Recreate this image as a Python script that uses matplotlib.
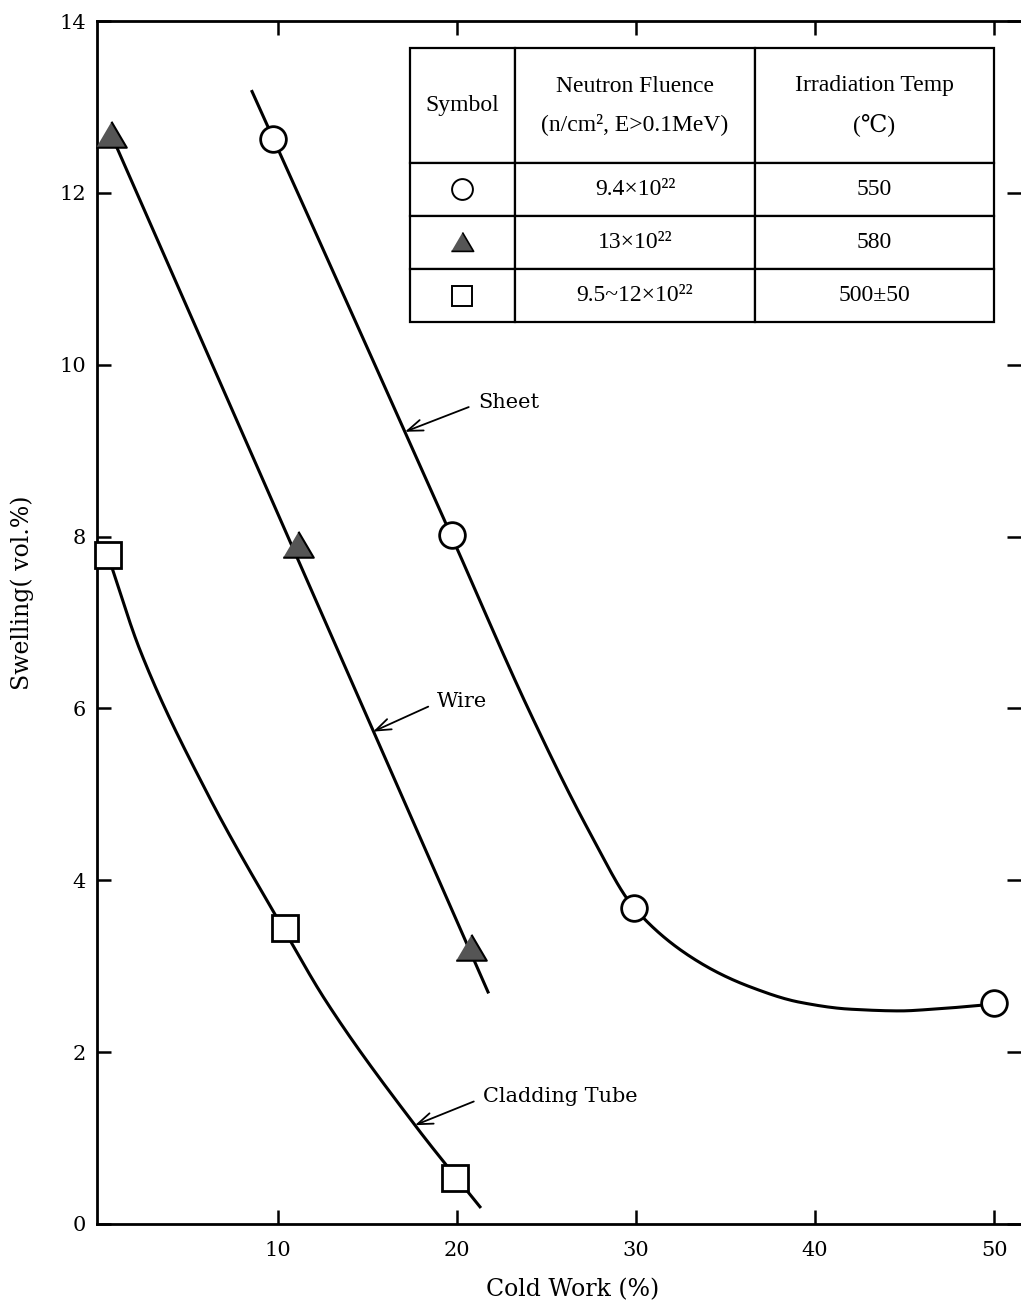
import numpy as np
import matplotlib
matplotlib.use("Agg")
import matplotlib.pyplot as plt

# ---------------- data ----------------
sheet_x = [9.7, 19.7, 29.9, 50.0]
sheet_y = [12.63, 8.02, 3.68, 2.57]
wire_x = [0.7, 11.1, 20.8]
wire_y = [12.67, 7.90, 3.21]
clad_x = [0.5, 10.4, 19.9]
clad_y = [7.78, 3.45, 0.54]

# drawn trend curves
sheet_curve_x = [8.55, 9.72, 19.66, 24.08, 27.43, 29.89,
                 33.58, 36.37, 39.16, 41.96, 44.75, 46.59, 50.06]
sheet_curve_y = [13.18, 12.64, 8.02, 5.95, 4.55, 3.68,
                 3.04, 2.76, 2.58, 2.50, 2.48, 2.50, 2.56]
wire_curve_x = [0.7, 21.73]
wire_curve_y = [12.67, 2.70]
clad_curve_x = [0.5, 2.29, 6.03, 10.4, 12.63, 17.65, 21.28]
clad_curve_y = [7.78, 6.68, 5.02, 3.40, 2.61, 1.15, 0.20]

x_ticks = [10, 20, 30, 40, 50]
y_ticks = [0, 2, 4, 6, 8, 10, 12, 14]

table_header = ["Symbol", "Neutron Fluence\n(n/cm², E>0.1MeV)",
                "Irradiation Temp\n(℃)"]
table_fluence = ["9.4×10²²", "13×10²²", "9.5~12×10²²"]
table_temp = ["550", "580", "500±50"]

series_labels = ["Sheet", "Wire", "Cladding Tube"]
label_tips = [(17.09, 9.22), (15.31, 5.73), (17.65, 1.15)]
label_pos = [(21.17, 9.56), (18.9, 6.08), (21.45, 1.48)]


def pchip(x, y, xn):
    x = np.asarray(x, float); y = np.asarray(y, float)
    h = np.diff(x); d = np.diff(y) / h
    n = len(x)
    m = np.zeros(n)
    m[0] = d[0]; m[-1] = d[-1]
    for k in range(1, n - 1):
        if d[k - 1] * d[k] <= 0:
            m[k] = 0.0
        else:
            w1 = 2 * h[k] + h[k - 1]
            w2 = h[k] + 2 * h[k - 1]
            m[k] = (w1 + w2) / (w1 / d[k - 1] + w2 / d[k])
    idx = np.clip(np.searchsorted(x, xn) - 1, 0, n - 2)
    t = (xn - x[idx]) / h[idx]
    h00 = 2 * t**3 - 3 * t**2 + 1
    h10 = t**3 - 2 * t**2 + t
    h01 = -2 * t**3 + 3 * t**2
    h11 = t**3 - t**2
    return h00 * y[idx] + h10 * h[idx] * m[idx] + h01 * y[idx + 1] + h11 * h[idx] * m[idx + 1]


serif = ["DejaVu Serif", "DejaVu Sans"]
tserif = ["Liberation Serif", "DejaVu Serif", "DejaVu Sans"]

fig = plt.figure(figsize=(10.21, 13.14), dpi=100)
ax = fig.add_axes([0.095, 0.0685, 0.905, 0.9155])
ax.set_xlim(-0.11, 51.5)
ax.set_ylim(0, 14)

LW = 2.2
for cx, cy in [(sheet_curve_x, sheet_curve_y), (clad_curve_x, clad_curve_y)]:
    xs = np.linspace(cx[0], cx[-1], 400)
    ax.plot(xs, pchip(cx, cy, xs), color="black", lw=LW, zorder=2)
ax.plot(wire_curve_x, wire_curve_y, color="black", lw=LW, zorder=2)

tri = [(-1.0, -0.8), (1.0, -0.8), (0.0, 0.9)]
ax.plot(sheet_x, sheet_y, ls="none", marker="o", ms=18.5, mfc="white",
        mec="black", mew=2.0, zorder=4, clip_on=False)
ax.plot(wire_x, wire_y, ls="none", marker=tri, ms=22, mfc="#555555",
        mec="black", mew=1.5, zorder=4, clip_on=False)
ax.plot(clad_x, clad_y, ls="none", marker="s", ms=19, mfc="white",
        mec="black", mew=2.0, zorder=4, clip_on=False)

for lab, tip, pos in zip(series_labels, label_tips, label_pos):
    ax.annotate(lab, xy=tip, xytext=pos, fontsize=15, family=serif,
                va="center", ha="left",
                arrowprops=dict(arrowstyle="->,head_length=0.55,head_width=0.2",
                                lw=1.3, color="black", shrinkA=5, shrinkB=0,
                                mutation_scale=20, relpos=(0, 0.45)))

# axes styling
for s in ["left", "bottom", "top"]:
    ax.spines[s].set_linewidth(2.0)
ax.spines["right"].set_visible(False)
ax.set_xticks(x_ticks)
ax.set_yticks(y_ticks)
ax.tick_params(direction="in", top=True, right=True, length=10, width=1.8,
               labelsize=15, pad=8)
ax.tick_params(axis="x", pad=12)
for lbl in ax.get_xticklabels() + ax.get_yticklabels():
    lbl.set_family(serif)

ax.set_xlabel("Cold Work (%)", fontsize=17, family=serif)
ax.xaxis.set_label_coords(0.515, -0.045)
ax.set_ylabel("Swelling( vol.%)", fontsize=17, family=serif)
ax.yaxis.set_label_coords(-0.068, 0.525)

# table (legend)
cell_text = [[table_header[0], table_header[1], table_header[2]]]
for f, t in zip(table_fluence, table_temp):
    cell_text.append(["", f, t])
col_w = [0.1136, 0.2597, 0.2587]
tbl = ax.table(cellText=cell_text, colWidths=col_w, cellLoc="center",
               bbox=[0.3387, 0.7498, 0.6321, 0.2278], zorder=5)
tbl.auto_set_font_size(False)
row_h = [115, 53, 53, 53]
for (r, c), cell in tbl.get_celld().items():
    cell.set_height(row_h[r])
    cell.set_linewidth(1.6)
    cell.set_edgecolor("black")
    cell.set_facecolor("white")
    txt = cell.get_text()
    txt.set_fontsize(17)
    txt.set_family(tserif)
    txt.set_linespacing(1.9)

sym_x = 0.3387 + 0.1136 / 2
row_centers = [0.8600, 0.8159, 0.7718]
ax.plot([sym_x], [row_centers[0]], transform=ax.transAxes, marker="o", ms=15,
        mfc="white", mec="black", mew=1.4, zorder=7, clip_on=False)
ax.plot([sym_x], [row_centers[1]], transform=ax.transAxes, marker=tri, ms=16,
        mfc="#555555", mec="black", mew=1.2, zorder=7, clip_on=False)
ax.plot([sym_x], [row_centers[2]], transform=ax.transAxes, marker="s", ms=15,
        mfc="white", mec="black", mew=1.4, zorder=7, clip_on=False)

fig.savefig("out.png", dpi=100, facecolor="white")
